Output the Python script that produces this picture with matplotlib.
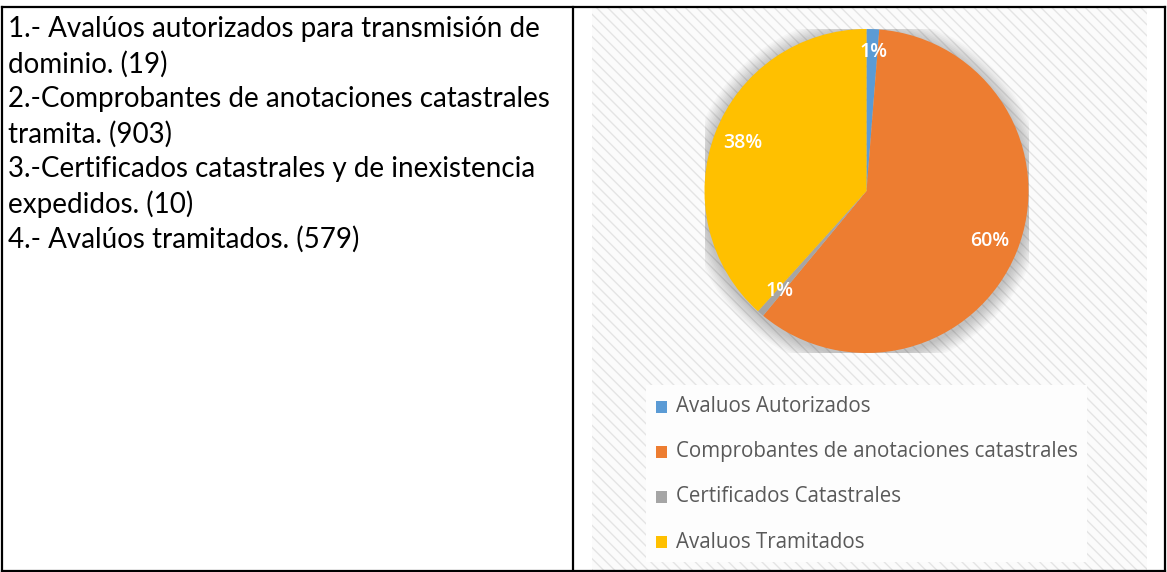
import matplotlib.pyplot as plt
from matplotlib.patches import Rectangle, Ellipse
from matplotlib.lines import Line2D

# data
labels = ["Avaluos Autorizados", "Comprobantes de anotaciones catastrales",
          "Certificados Catastrales", "Avaluos Tramitados"]
values = [19, 903, 10, 579]
colors = ["#5b9bd5", "#ed7d31", "#a5a5a5", "#ffc000"]
notes = ["1.- Avalúos autorizados para transmisión de", "dominio. (19)",
         "2.-Comprobantes de anotaciones catastrales", "tramita. (903)",
         "3.-Certificados catastrales y de inexistencia", "expedidos. (10)",
         "4.- Avalúos tramitados. (579)"]

W, H = 1167, 572
plt.rcParams['hatch.color'] = '#e4e4e4'
plt.rcParams['hatch.linewidth'] = 1.0
fig = plt.figure(figsize=(W / 100, H / 100), dpi=100)

def fx(x): return x / W
def fy(y): return 1 - y / H

# hatched chart area
fig.add_artist(Rectangle((fx(592), 0), fx(1147) - fx(592), fy(8), transform=fig.transFigure,
                         facecolor='#fbfbfb', edgecolor='#e4e4e4', hatch='\\\\\\', lw=0, zorder=-2))
# legend box (plain)
fig.add_artist(Rectangle((fx(646), fy(562)), fx(1087) - fx(646), fy(385) - fy(562),
                         transform=fig.transFigure, facecolor='#fdfdfd', lw=0, zorder=-1))

# table borders
for x0, y0, x1, y1 in [(2, 7, 1165, 7), (2, 7, 2, 572), (573, 7, 573, 572),
                       (1165, 7, 1165, 572), (2, 571, 1165, 571)]:
    fig.add_artist(Line2D([fx(x0), fx(x1)], [fy(y0), fy(y1)], color='black', lw=1.6,
                          transform=fig.transFigure))

# left cell text
for i, line in enumerate(notes):
    fig.text(fx(8), fy(29 + 35 * i), line, fontsize=20, family='Lato', va='center', color='black')

# pie
cx, cy, r = 866.5, 191, 162
ax = fig.add_axes([fx(cx - r), fy(cy + r), 2 * r / W, 2 * r / H])
ax.set_zorder(2)
for k in range(10):
    s = 1.0 + 0.01 * (k + 1)
    ax.add_patch(Ellipse((0.0, -0.015), 2 * s, 2 * s, facecolor='#000000', alpha=0.022, lw=0, zorder=0))
wedges, _, autotexts = ax.pie(values, colors=colors, startangle=90, counterclock=False,
                              autopct='%1.0f%%', pctdistance=0.82,
                              textprops=dict(color='white', fontsize=14, family='Open Sans',
                                             fontweight='semibold'))
autotexts[0].set_position((0.04, 0.86))
ax.set_aspect('auto')
ax.set_xlim(-1, 1)
ax.set_ylim(-1, 1)
ax.axis('off')

# legend
for i, (lab, c) in enumerate(zip(labels, colors)):
    y = 407 + 45 * i
    fig.add_artist(Rectangle((fx(656), fy(y + 6)), 11 / W, 12 / H, transform=fig.transFigure,
                             facecolor=c, lw=0))
    fig.text(fx(676), fy(y), lab, fontsize=14.8, color='#595959', va='center', family='Open Sans')

fig.savefig('out.png', dpi=100)
